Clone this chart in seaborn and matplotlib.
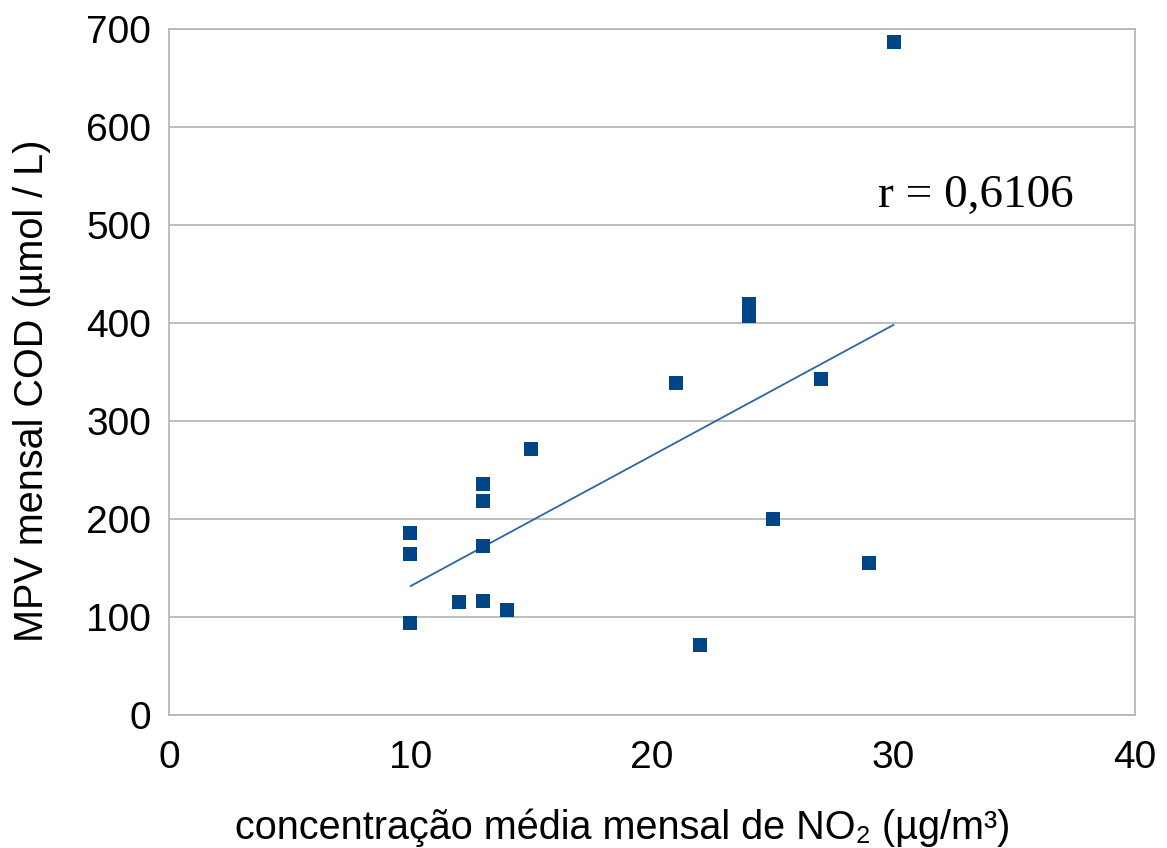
import numpy as np
import pandas as pd
import seaborn as sns
import matplotlib.pyplot as plt

# Monthly mean NO2 concentration (µg/m³) and monthly MPV of COD (µmol/L)
no2 = [10, 10, 10, 12, 13, 13, 13, 13, 14, 15, 21, 22, 24, 24, 25, 27, 29, 30]
cod = [186, 164, 94, 115, 236, 218, 172, 116, 107, 271, 339, 71, 419, 407, 200, 343, 155, 687]
r_label = "r = 0,6106"

x_ticks = [0, 10, 20, 30, 40]
y_ticks = [0, 100, 200, 300, 400, 500, 600, 700]

df = pd.DataFrame({"no2": no2, "cod": cod})

sns.set_theme(style="white")
plt.rcParams["font.family"] = ["Liberation Sans", "DejaVu Sans"]

fig = plt.figure(figsize=(11.67, 8.48), dpi=100)
ax = fig.add_axes([0.1448, 0.1568, 0.8278, 0.809])

point_color = "#004586"
sns.regplot(
    data=df, x="no2", y="cod", ax=ax, ci=None, marker="s", truncate=True,
    scatter_kws=dict(s=110, color=point_color, alpha=1, linewidths=0, zorder=3),
    line_kws=dict(color="#2b67a3", lw=1.3, zorder=2),
)

ax.set_xlim(0, 40)
ax.set_ylim(0, 700)
ax.set_xticks(x_ticks)
ax.set_yticks(y_ticks)
ax.grid(axis="y", color="#b3b3b3", lw=1.2)
ax.set_axisbelow(True)
for s in ax.spines.values():
    s.set_visible(True)
    s.set_color("#b3b3b3")
    s.set_linewidth(1.2)

ax.tick_params(axis="both", direction="out", length=8, width=1.2, color="#b3b3b3",
               labelsize=28, labelcolor="black")
ax.tick_params(axis="x", pad=10)
ax.tick_params(axis="y", pad=5)

ax.set_xlabel("concentração média mensal de NO₂ (µg/m³)", fontsize=28.5, color="black")
ax.set_ylabel("MPV mensal COD (µmol / L)", fontsize=28.5, color="black")
ax.xaxis.set_label_coords(0.470, -0.164)
ax.xaxis.label.set_va("center")
ax.yaxis.set_label_coords(-0.142, 0.472)
ax.yaxis.label.set_va("center")

ax.text(33.4, 518, r_label, family="Liberation Serif", fontsize=34,
        ha="center", va="baseline", color="black")

fig.savefig("out.png", dpi=100)
